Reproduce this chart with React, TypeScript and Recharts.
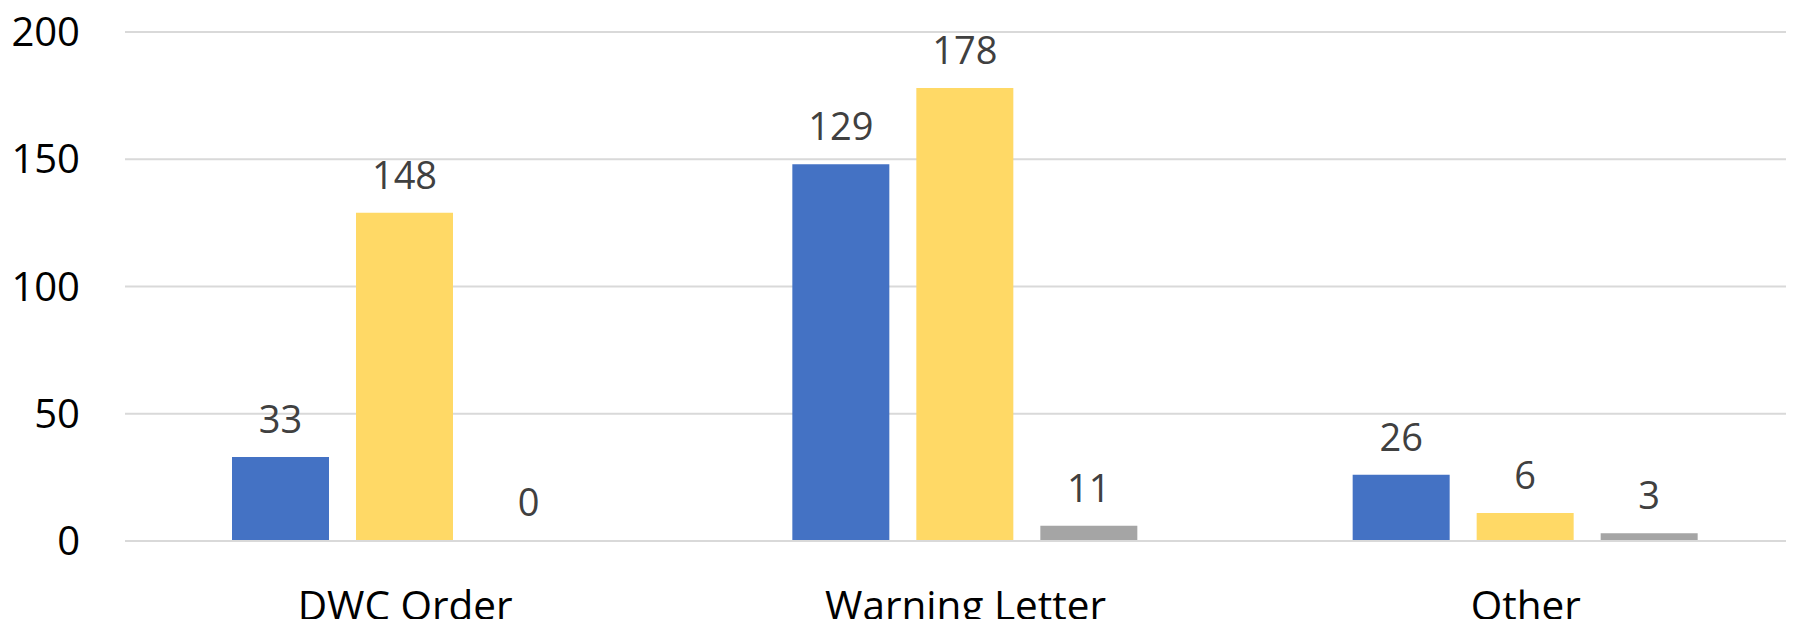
import React from 'react';
import { BarChart, Bar, XAxis, YAxis, CartesianGrid, LabelList } from 'recharts';

// categories along the x axis
const categories = ['DWC Order', 'Warning Letter', 'Other'];

// bar heights as drawn
const blueValues = [33, 148, 26];
const yellowValues = [129, 178, 11];
const grayValues = [0, 6, 3];

// numbers printed above the bars (they do not always match the bar height)
const blueLabels = [33, 129, 26];
const yellowLabels = [148, 178, 6];
const grayLabels = [0, 11, 3];

const yTicks = [0, 50, 100, 150, 200];

const FONT = '"Open Sans", "Noto Sans", sans-serif';

const data = categories.map((name, i) => ({
  name,
  blue: blueValues[i],
  yellow: yellowValues[i],
  gray: grayValues[i],
  blueLabel: blueLabels[i],
  yellowLabel: yellowLabels[i],
  grayLabel: grayLabels[i],
}));

const labelStyle = { fontSize: 38, fill: '#404040', fontFamily: FONT };

// zero-height bars get no label otherwise, give them a hairline
const keepZero = (value: any) => (Number(value) === 0 ? 1 : 0);

const App: React.FC = () => {
  return (
    <div style={{ margin: -8, width: 1794, height: 627, overflow: 'hidden', background: '#fff' }}>
      <BarChart
        width={1806}
        height={627}
        data={data}
        margin={{ top: 32, right: 0, left: 0, bottom: 0 }}
        barCategoryGap={107}
        barGap={27}
      >
        <CartesianGrid vertical={false} stroke="#d9d9d9" strokeWidth={2} />
        <XAxis
          dataKey="name"
          height={86}
          axisLine={{ stroke: '#d9d9d9', strokeWidth: 2 }}
          tickLine={false}
          tickSize={0}
          tickMargin={50}
          tick={{ fontSize: 40.5, fill: '#000', fontFamily: FONT }}
        />
        <YAxis
          width={125}
          domain={[0, 200]}
          ticks={yTicks}
          axisLine={false}
          tickLine={false}
          tickSize={0}
          tickMargin={45}
          tick={{ fontSize: 40, fill: '#000', fontFamily: FONT }}
        />
        <Bar dataKey="blue" name="Series 1" fill="#4472C4" isAnimationActive={false}>
          <LabelList dataKey="blueLabel" position="top" offset={24} style={labelStyle} />
        </Bar>
        <Bar dataKey="yellow" name="Series 2" fill="#FFD966" isAnimationActive={false}>
          <LabelList dataKey="yellowLabel" position="top" offset={24} style={labelStyle} />
        </Bar>
        <Bar
          dataKey="gray"
          name="Series 3"
          fill="#A5A5A5"
          minPointSize={keepZero}
          isAnimationActive={false}
        >
          <LabelList dataKey="grayLabel" position="top" offset={24} style={labelStyle} />
        </Bar>
      </BarChart>
    </div>
  );
};

export default App;
